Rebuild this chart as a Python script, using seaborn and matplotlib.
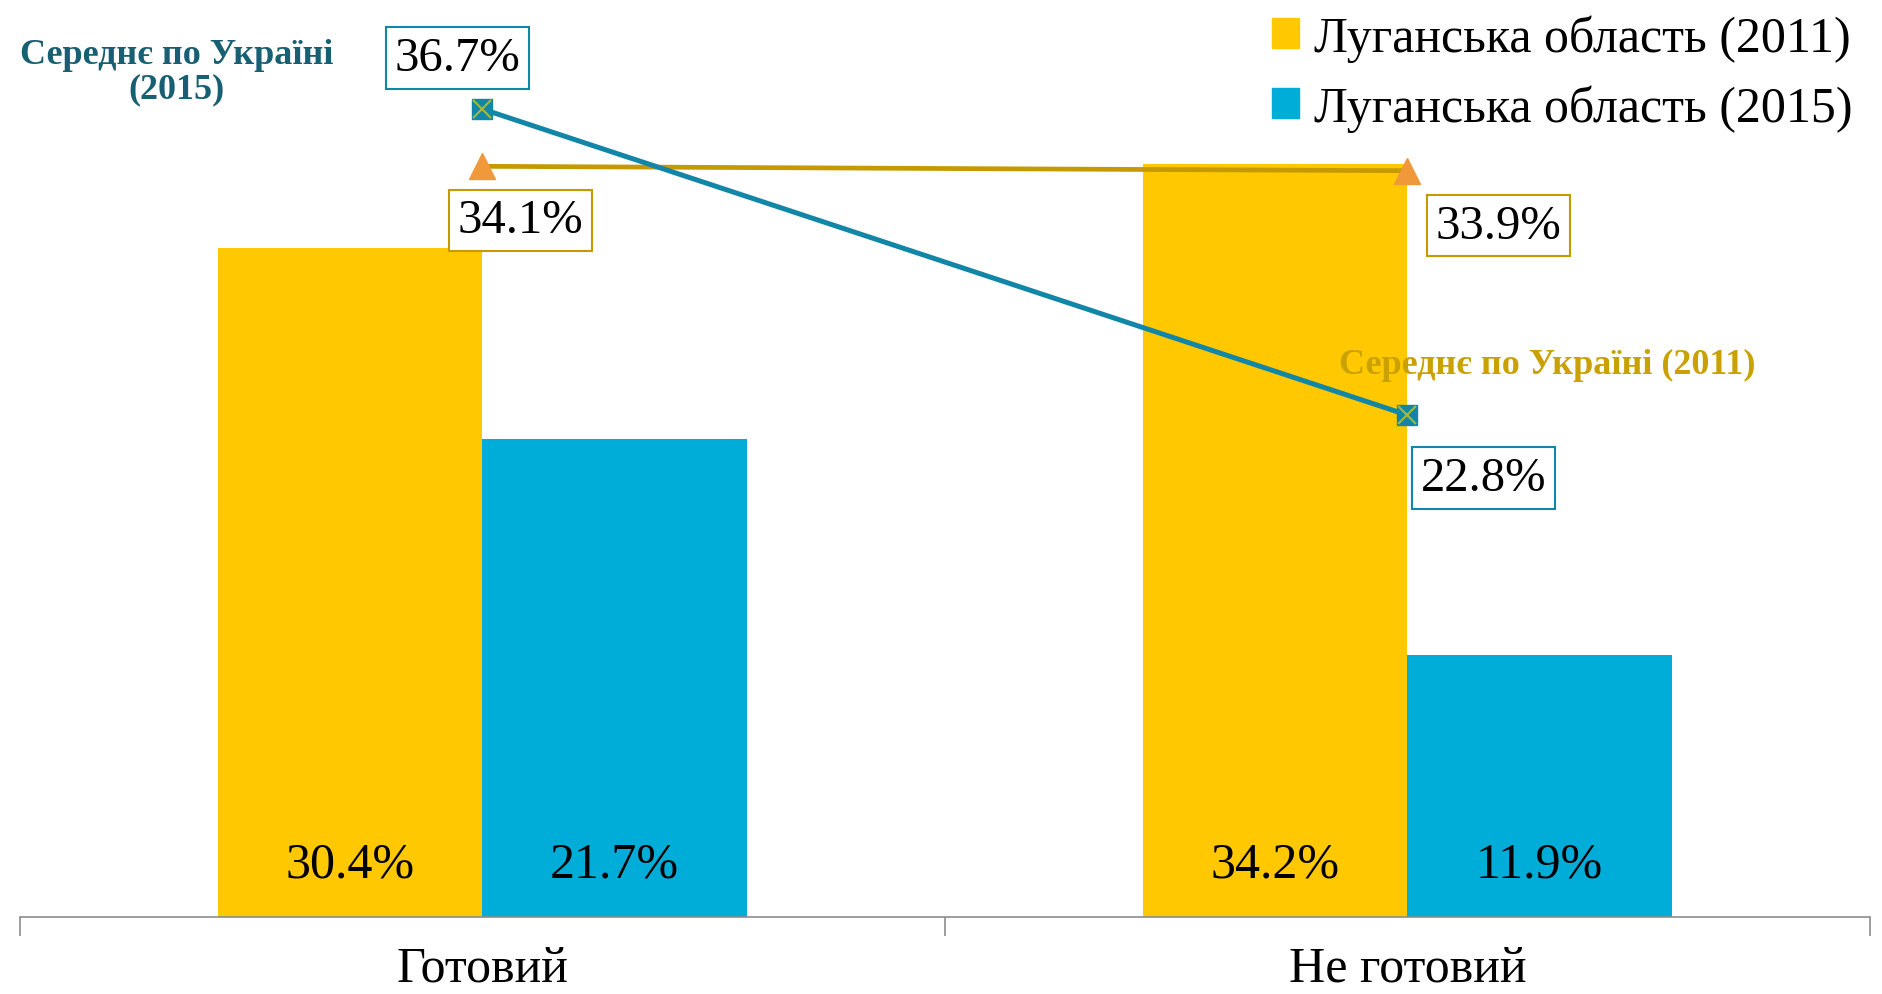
import numpy as np
import matplotlib.pyplot as plt
import pandas as pd
import seaborn as sns
from matplotlib.patches import Patch

categories = ["Готовий", "Не готовий"]
series = ["Луганська область (2011)", "Луганська область (2015)"]
luhansk_2011 = [30.4, 34.2]
luhansk_2015 = [21.7, 11.9]
ukraine_2011 = [34.1, 33.9]
ukraine_2015 = [36.7, 22.8]

bar_colors = ["#FFC800", "#00ADD9"]
c_line15 = "#1286A6"
c_line11 = "#C49A00"

df = pd.DataFrame({
    "cat": categories * 2,
    "series": [series[0]] * 2 + [series[1]] * 2,
    "val": luhansk_2011 + luhansk_2015,
})

sns.set_style("white")
plt.rcParams["font.family"] = ["Liberation Serif", "DejaVu Serif"]
plt.rcParams["text.color"] = "black"
plt.rcParams["xtick.color"] = "black"

fig = plt.figure(figsize=(18.83, 9.95), dpi=100)
ax = fig.add_axes([20 / 1883, 77 / 995, 1850 / 1883, 918 / 995])

sns.barplot(data=df, x="cat", y="val", hue="series", palette=bar_colors,
            width=0.571, saturation=1, linewidth=0, ax=ax, legend=False)

# value labels inside bars, near the base
for cont in ax.containers:
    for bar, v in zip(cont, cont.datavalues):
        ax.text(bar.get_x() + bar.get_width() / 2, 2.4, f"{v:.1f}%",
                ha="center", va="center", fontsize=36)

pos = np.arange(len(categories))
ax.plot(pos, ukraine_2011, color=c_line11, lw=3.4, zorder=4)
ax.plot(pos, ukraine_2011, ls="none", marker="^", ms=19, color="#F0993A", zorder=5)
ax.plot(pos, ukraine_2015, color=c_line15, lw=3.6, zorder=4)
ax.plot(pos, ukraine_2015, ls="none", marker="s", ms=15, color=c_line15, zorder=5)
ax.plot(pos, ukraine_2015, ls="none", marker="x", ms=13, mew=1.5, color="#A6B83A", zorder=6)

offs11 = [(38, -54), (91, -55)]
offs15 = [(-25, 51), (76, -63)]
for i, v in enumerate(ukraine_2011):
    ax.annotate(f"{v:.1f}%", (pos[i], v), xytext=offs11[i], textcoords="offset pixels",
                ha="center", va="center", fontsize=35, zorder=7,
                bbox=dict(boxstyle="square,pad=0.18", fc="white", ec=c_line11, lw=1.5))
for i, v in enumerate(ukraine_2015):
    ax.annotate(f"{v:.1f}%", (pos[i], v), xytext=offs15[i], textcoords="offset pixels",
                ha="center", va="center", fontsize=35, zorder=7,
                bbox=dict(boxstyle="square,pad=0.18", fc="white", ec=c_line15, lw=1.5))

fig.text(177 / 1883, 1 - 73 / 995, "Середнє по Україні\n(2015)", ha="center", va="center",
         fontsize=26, fontweight="bold", color="#175F73", linespacing=1.05)
fig.text(1547 / 1883, 1 - 365 / 995, "Середнє по Україні (2011)", ha="center", va="center",
         fontsize=26, fontweight="bold", color="#C9A100")

ax.set_xlim(-0.5, 1.5)
ax.set_ylim(0, 41.7)
ax.set_yticks([])
ax.set_xlabel("")
ax.set_ylabel("")
ax.set_xticks(pos)
ax.set_xticklabels(categories, fontsize=36)
ax.set_xticks([-0.5, 0.5, 1.5], minor=True)
ax.tick_params(axis="x", which="major", bottom=False, length=0, pad=20)
ax.tick_params(axis="x", which="minor", bottom=True, length=14, width=1.2,
               color="#8C8C8C", direction="out")
for s in ["left", "right", "top"]:
    ax.spines[s].set_visible(False)
ax.spines["bottom"].set_color("#8C8C8C")
ax.spines["bottom"].set_linewidth(1.2)

handles = [Patch(color=c) for c in bar_colors]
fig.legend(handles, series, loc="upper right", bbox_to_anchor=(1.0, 1.015), frameon=False,
           fontsize=36, handlelength=0.55, handleheight=0.55, handletextpad=0.3,
           labelspacing=0.45, borderaxespad=0.2)

fig.savefig("out.png", dpi=100)
